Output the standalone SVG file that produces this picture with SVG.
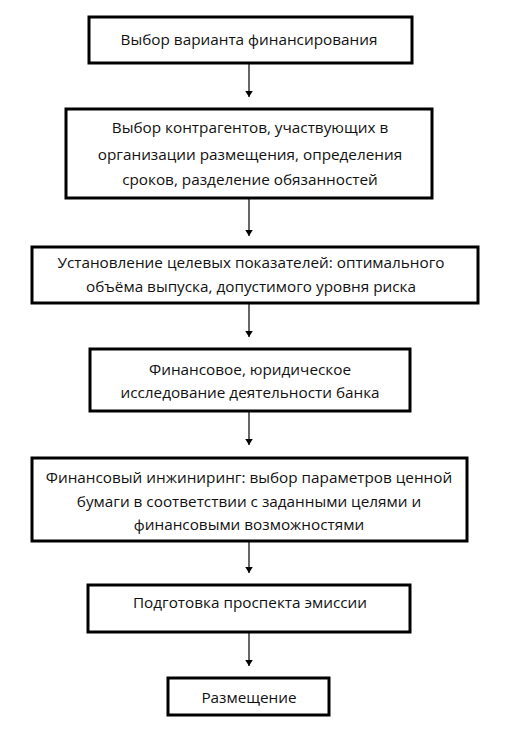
<svg xmlns="http://www.w3.org/2000/svg" width="510" height="731" viewBox="0 0 510 731">
<defs>
<style>
.box{fill:#fff;stroke:#000;stroke-width:3}
.t{font-family:"Open Sans","Liberation Sans",sans-serif;font-size:15.3px;fill:#111;text-anchor:middle}
.c{stroke:#000;stroke-width:1.2;fill:none}
</style>
<marker id="ah" viewBox="0 0 8 10" refX="8" refY="5" markerWidth="6" markerHeight="8" markerUnits="userSpaceOnUse" orient="auto">
<path d="M0,0 L8,5 L0,10 Z" fill="#000"/>
</marker>
</defs>
<rect width="510" height="731" fill="#fff"/>
<g id="connectors">
<line class="c" x1="249" y1="63" x2="249" y2="97" marker-end="url(#ah)"/>
<line class="c" x1="249" y1="198" x2="249" y2="236" marker-end="url(#ah)"/>
<line class="c" x1="249" y1="303" x2="249" y2="337" marker-end="url(#ah)"/>
<line class="c" x1="249" y1="411" x2="249" y2="445" marker-end="url(#ah)"/>
<line class="c" x1="249" y1="541" x2="249" y2="573" marker-end="url(#ah)"/>
<line class="c" x1="249" y1="632" x2="249" y2="666" marker-end="url(#ah)"/>
</g>
<g id="n1">
<rect class="box" x="89" y="17" width="323" height="46"/>
<text class="t" x="249" y="45">Выбор варианта финансирования</text>
</g>
<g id="n2">
<rect class="box" x="66" y="109" width="366" height="89"/>
<text class="t" x="250" y="133">Выбор контрагентов, участвующих в</text>
<text class="t" x="250" y="160">организации размещения, определения</text>
<text class="t" x="250" y="185">сроков, разделение обязанностей</text>
</g>
<g id="n3">
<rect class="box" x="32" y="247" width="446" height="56"/>
<text class="t" x="251" y="268">Установление целевых показателей: оптимального</text>
<text class="t" x="251" y="292">объёма выпуска, допустимого уровня риска</text>
</g>
<g id="n4">
<rect class="box" x="90" y="349" width="320" height="62"/>
<text class="t" x="250" y="375">Финансовое, юридическое</text>
<text class="t" x="250" y="398">исследование деятельности банка</text>
</g>
<g id="n5">
<rect class="box" x="32" y="458" width="435" height="83"/>
<text class="t" x="249" y="483">Финансовый инжиниринг: выбор параметров ценной</text>
<text class="t" x="249" y="507">бумаги в соответствии с заданными целями и</text>
<text class="t" x="249" y="530">финансовыми возможностями</text>
</g>
<g id="n6">
<rect class="box" x="88" y="585" width="322" height="47"/>
<text class="t" x="250" y="608">Подготовка проспекта эмиссии</text>
</g>
<g id="n7">
<rect class="box" x="168" y="678" width="161" height="37"/>
<text class="t" x="249" y="703">Размещение</text>
</g>
</svg>
